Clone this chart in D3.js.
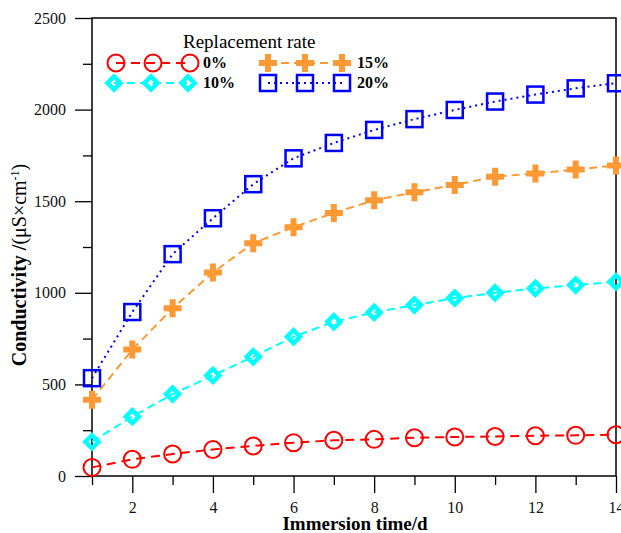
<!DOCTYPE html>
<html>
<head>
<meta charset="utf-8">
<script src="https://cdn.jsdelivr.net/npm/d3@7"></script>
<style>
  body { margin: 0; background: #fff; }
  svg text { font-family: "Liberation Serif", "Times New Roman", serif; }
</style>
</head>
<body>
<svg id="chart" width="621" height="533"></svg>
<script>
// immersion days and measured conductivity for each replacement rate
var days = [1, 2, 3, 4, 5, 6, 7, 8, 9, 10, 11, 12, 13, 14];
var rate0  = [47, 91, 120, 145, 164, 182, 195, 200, 209, 213, 216, 220, 222, 225];
var rate10 = [187, 324, 447, 549, 651, 760, 842, 893, 933, 971, 1000, 1024, 1042, 1060];
var rate15 = [416, 690, 915, 1111, 1271, 1358, 1436, 1505, 1549, 1589, 1634, 1651, 1673, 1695];
var rate20 = [534, 895, 1211, 1407, 1593, 1734, 1818, 1889, 1948, 1998, 2044, 2082, 2116, 2144];
var xTicks = [2, 4, 6, 8, 10, 12, 14];
var yTicks = [0, 500, 1000, 1500, 2000, 2500];

var series = [
    {name: "0%",  values: rate0,  color: "#ff0000", dash: "9,6", shape: "circle"},
    {name: "10%", values: rate10, color: "#00ffff", dash: "8,5", shape: "diamond"},
    {name: "15%", values: rate15, color: "#ff9933", dash: "8,5", shape: "plus"},
    {name: "20%", values: rate20, color: "#0000ff", dash: "2,4", shape: "square"}
];

var svg = d3.select("#chart");
var pLeft = 92, pRight = 616, pTop = 18, pBottom = 476;

var x = d3.scaleLinear().domain([1, 14]).range([pLeft, pRight]);
var y = d3.scaleLinear().domain([0, 2500]).range([pBottom, pTop]);

// frame
svg.append("rect")
    .attr("x", pLeft).attr("y", pTop)
    .attr("width", pRight - pLeft).attr("height", pBottom - pTop)
    .attr("fill", "none").attr("stroke", "#000").attr("stroke-width", 1.5);

// x axis: major + minor ticks
var xAxis = svg.append("g").attr("transform", "translate(0," + pBottom + ")");
xAxis.append("g").call(d3.axisBottom(x).tickValues([1, 3, 5, 7, 9, 11, 13]).tickSize(9).tickFormat(""));
xAxis.append("g").call(d3.axisBottom(x).tickValues(xTicks).tickSize(17).tickPadding(9).tickFormat(d3.format("d")));
xAxis.selectAll(".domain").remove();
xAxis.selectAll("line").attr("stroke", "#000").attr("stroke-width", 1.3);
xAxis.selectAll("text").attr("font-size", 16).attr("fill", "#111");

var yAxis = svg.append("g").attr("transform", "translate(" + pLeft + ",0)");
yAxis.append("g").call(d3.axisLeft(y).tickValues([250, 750, 1250, 1750, 2250]).tickSize(9).tickFormat(""));
yAxis.append("g").call(d3.axisLeft(y).tickValues(yTicks).tickSize(17).tickPadding(9).tickFormat(d3.format("d")));
yAxis.selectAll(".domain").remove();
yAxis.selectAll("line").attr("stroke", "#000").attr("stroke-width", 1.3);
yAxis.selectAll("text").attr("font-size", 16).attr("fill", "#111");

// axis titles
svg.append("text")
    .attr("x", 355).attr("y", 530)
    .attr("text-anchor", "middle")
    .attr("font-size", 19).attr("font-weight", "bold")
    .text("Immersion time/d");

var ylab = svg.append("text")
    .attr("transform", "translate(26,265) rotate(-90)")
    .attr("text-anchor", "middle")
    .attr("font-size", 20);
ylab.append("tspan").attr("font-weight", "bold").text("Conductivity /");
ylab.append("tspan").text("(μS×cm");
ylab.append("tspan").attr("dy", -7).attr("font-size", 12).text("-1");
ylab.append("tspan").attr("dy", 7).text(")");

// marker drawing
function drawMarker(g, shape, color) {
    if (shape === "circle") {
        g.append("circle").attr("r", 8.5)
            .attr("fill", "none").attr("stroke", color).attr("stroke-width", 2);
    } else if (shape === "square") {
        g.append("rect").attr("x", -8).attr("y", -8).attr("width", 16).attr("height", 16)
            .attr("fill", "none").attr("stroke", color).attr("stroke-width", 2.5);
    } else if (shape === "diamond") {
        g.append("path").attr("d", "M0,-6.5L6.5,0L0,6.5L-6.5,0Z")
            .attr("fill", "none").attr("stroke", color).attr("stroke-width", 4.5)
            .attr("stroke-linejoin", "miter");
    } else if (shape === "plus") {
        g.append("path").attr("d", "M-9,0H9M0,-9V9")
            .attr("stroke", color).attr("stroke-width", 6);
    }
}

var line = d3.line()
    .x(function(d, i) { return x(days[i]); })
    .y(function(d) { return y(d); });

series.forEach(function(s) {
    svg.append("path")
        .datum(s.values)
        .attr("d", line)
        .attr("fill", "none")
        .attr("stroke", s.color)
        .attr("stroke-width", 2)
        .attr("stroke-dasharray", s.dash);

    svg.selectAll(null).data(s.values).enter().append("g")
        .attr("transform", function(d, i) { return "translate(" + x(days[i]) + "," + y(d) + ")"; })
        .each(function() { drawMarker(d3.select(this), s.shape, s.color); });
});

// legend
svg.append("text")
    .attr("x", 183).attr("y", 48)
    .attr("font-size", 19)
    .text("Replacement rate");

var legendPos = [
    {s: series[0], x0: 116, ty: 63, tx: 203},
    {s: series[1], x0: 114, ty: 83, tx: 203},
    {s: series[2], x0: 268, ty: 63, tx: 357},
    {s: series[3], x0: 268, ty: 83, tx: 357}
];
legendPos.forEach(function(p) {
    var g = svg.append("g");
    g.append("line")
        .attr("x1", p.x0).attr("x2", p.x0 + 74)
        .attr("y1", p.ty).attr("y2", p.ty)
        .attr("stroke", p.s.color).attr("stroke-width", 2)
        .attr("stroke-dasharray", p.s.dash);
    [0, 37, 74].forEach(function(dx) {
        var m = g.append("g").attr("transform", "translate(" + (p.x0 + dx) + "," + p.ty + ")");
        drawMarker(m, p.s.shape, p.s.color);
    });
    g.append("text")
        .attr("x", p.tx).attr("y", p.ty + 5)
        .attr("font-size", 16).attr("font-weight", "bold")
        .text(p.s.name);
});
</script>
</body>
</html>
